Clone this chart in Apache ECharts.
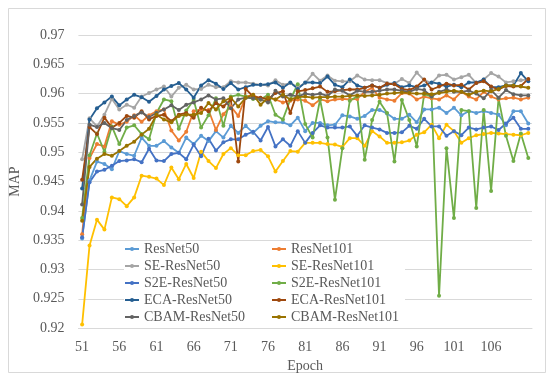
<!DOCTYPE html>
<html>
<head>
<meta charset="utf-8">
<script src="https://cdn.jsdelivr.net/npm/echarts@6/dist/echarts.min.js"></script>
<style>
html,body{margin:0;padding:0;background:#fff;}
#chart{width:550px;height:378px;}
</style>
</head>
<body>
<div id="chart"></div>
<script>
const epochs = ['51','52','53','54','55','56','57','58','59','60','61','62','63','64','65','66','67','68','69','70','71','72','73','74','75','76','77','78','79','80','81','82','83','84','85','86','87','88','89','90','91','92','93','94','95','96','97','98','99','100','101','102','103','104','105','106','107','108','109','110','111'];

const seriesNames = ['ResNet50','ResNet101','SE-ResNet50','SE-ResNet101','S2E-ResNet50','S2E-ResNet101','ECA-ResNet50','ECA-ResNet101','CBAM-ResNet50','CBAM-ResNet101'];

const resnet50 = [0.9353,0.9452,0.9484,0.9480,0.9471,0.9502,0.9497,0.9494,0.9525,0.9511,
0.9511,0.9519,0.9508,0.9499,0.9525,0.9514,0.9528,0.9519,0.9536,0.9525,
0.9545,0.9533,0.9545,0.9533,0.9545,0.9553,0.9551,0.9551,0.9546,0.9559,
0.9536,0.9550,0.9550,0.9546,0.9547,0.9563,0.9561,0.9557,0.9562,0.9572,
0.9572,0.9566,0.9557,0.9557,0.9564,0.9551,0.9573,0.9573,0.9576,0.9567,
0.9576,0.9563,0.9570,0.9567,0.9570,0.9567,0.9564,0.9546,0.9570,0.9570,
0.9549];

const resnet101 = [0.9360,0.9490,0.9514,0.9510,0.9553,0.9547,0.9552,0.9563,0.9552,0.9563,
0.9570,0.9573,0.9537,0.9520,0.9535,0.9570,0.9573,0.9572,0.9538,0.9565,
0.9578,0.9562,0.9595,0.9598,0.9590,0.9595,0.9590,0.9585,0.9588,0.9590,
0.9588,0.9580,0.9590,0.9587,0.9590,0.9591,0.9590,0.9591,0.9603,0.9610,
0.9593,0.9590,0.9588,0.9601,0.9600,0.9590,0.9595,0.9592,0.9590,0.9597,
0.9590,0.9603,0.9595,0.9590,0.9603,0.9595,0.9590,0.9592,0.9593,0.9590,
0.9593];

const seResnet50 = [0.9488,0.9558,0.9544,0.9564,0.9591,0.9573,0.9581,0.9576,0.9595,0.9601,
0.9607,0.9612,0.9595,0.9610,0.9615,0.9607,0.9608,0.9615,0.9611,0.9611,
0.9621,0.9619,0.9619,0.9617,0.9615,0.9614,0.9623,0.9615,0.9618,0.9611,
0.9618,0.9634,0.9622,0.9631,0.9622,0.9621,0.9621,0.9631,0.9624,0.9623,
0.9623,0.9618,0.9617,0.9625,0.9618,0.9636,0.9623,0.9618,0.9631,0.9632,
0.9624,0.9628,0.9632,0.9618,0.9624,0.9635,0.9629,0.9619,0.9621,0.9623,
0.9624];

const seResnet101 = [0.9206,0.9341,0.9385,0.9368,0.9423,0.9420,0.9408,0.9423,0.9460,0.9458,
0.9455,0.9444,0.9474,0.9454,0.9480,0.9456,0.9501,0.9485,0.9473,0.9497,
0.9507,0.9495,0.9495,0.9502,0.9504,0.9493,0.9467,0.9485,0.9502,0.9501,
0.9516,0.9516,0.9516,0.9514,0.9513,0.9509,0.9524,0.9524,0.9511,0.9536,
0.9527,0.9516,0.9516,0.9517,0.9520,0.9530,0.9534,0.9547,0.9524,0.9547,
0.9536,0.9516,0.9524,0.9529,0.9531,0.9533,0.9532,0.9531,0.9530,0.9529,
0.9533];

const s2eResnet50 = [0.9355,0.9449,0.9467,0.9470,0.9477,0.9485,0.9486,0.9488,0.9483,0.9506,
0.9486,0.9485,0.9497,0.9499,0.9488,0.9513,0.9493,0.9523,0.9503,0.9517,
0.9522,0.9522,0.9530,0.9535,0.9520,0.9543,0.9510,0.9522,0.9511,0.9536,
0.9516,0.9533,0.9546,0.9542,0.9542,0.9542,0.9544,0.9528,0.9546,0.9542,
0.9539,0.9533,0.9533,0.9534,0.9545,0.9540,0.9557,0.9544,0.9544,0.9528,
0.9536,0.9529,0.9542,0.9539,0.9542,0.9544,0.9538,0.9549,0.9559,0.9540,
0.9540];

const s2eResnet101 = [0.9388,0.9495,0.9532,0.9501,0.9544,0.9514,0.9542,0.9546,0.9531,0.9522,
0.9567,0.9590,0.9587,0.9540,0.9571,0.9589,0.9542,0.9563,0.9592,0.9545,
0.9595,0.9598,0.9595,0.9591,0.9590,0.9598,0.9564,0.9556,0.9590,0.9616,
0.9548,0.9525,0.9590,0.9525,0.9419,0.9507,0.9588,0.9595,0.9487,0.9555,
0.9586,0.9567,0.9484,0.9589,0.9555,0.9510,0.9599,0.9595,0.9255,0.9507,
0.9388,0.9572,0.9570,0.9405,0.9572,0.9434,0.9592,0.9528,0.9485,0.9532,
0.9490];

const ecaResnet50 = [0.9438,0.9556,0.9575,0.9585,0.9595,0.9580,0.9590,0.9598,0.9594,0.9586,
0.9596,0.9607,0.9613,0.9618,0.9607,0.9593,0.9614,0.9623,0.9617,0.9608,
0.9618,0.9607,0.9611,0.9615,0.9615,0.9616,0.9619,0.9610,0.9619,0.9608,
0.9619,0.9619,0.9618,0.9629,0.9615,0.9611,0.9624,0.9614,0.9610,0.9614,
0.9610,0.9615,0.9618,0.9611,0.9614,0.9611,0.9614,0.9619,0.9617,0.9612,
0.9615,0.9611,0.9619,0.9619,0.9624,0.9611,0.9611,0.9614,0.9614,0.9635,
0.9621];

const ecaResnet101 = [0.9453,0.9543,0.9531,0.9559,0.9542,0.9550,0.9562,0.9559,0.9570,0.9556,
0.9562,0.9564,0.9553,0.9564,0.9567,0.9559,0.9576,0.9570,0.9584,0.9578,
0.9590,0.9484,0.9608,0.9595,0.9593,0.9590,0.9601,0.9604,0.9567,0.9604,
0.9606,0.9609,0.9612,0.9603,0.9604,0.9606,0.9607,0.9607,0.9610,0.9614,
0.9610,0.9617,0.9616,0.9608,0.9606,0.9612,0.9624,0.9607,0.9612,0.9617,
0.9614,0.9615,0.9607,0.9618,0.9621,0.9612,0.9607,0.9613,0.9612,0.9613,
0.9625];

const cbamResnet50 = [0.9411,0.9547,0.9543,0.9550,0.9541,0.9538,0.9555,0.9562,0.9568,0.9560,
0.9567,0.9573,0.9580,0.9572,0.9581,0.9585,0.9590,0.9597,0.9590,0.9592,
0.9575,0.9590,0.9593,0.9592,0.9590,0.9585,0.9605,0.9595,0.9598,0.9595,
0.9600,0.9598,0.9600,0.9596,0.9607,0.9605,0.9597,0.9605,0.9603,0.9603,
0.9605,0.9607,0.9607,0.9605,0.9603,0.9608,0.9606,0.9595,0.9603,0.9607,
0.9603,0.9603,0.9605,0.9600,0.9592,0.9606,0.9593,0.9606,0.9599,0.9597,
0.9597];

const cbamResnet101 = [0.9383,0.9475,0.9489,0.9497,0.9494,0.9502,0.9511,0.9518,0.9530,0.9540,
0.9564,0.9556,0.9551,0.9562,0.9564,0.9564,0.9567,0.9584,0.9573,0.9587,
0.9593,0.9578,0.9593,0.9598,0.9581,0.9593,0.9590,0.9598,0.9590,0.9594,
0.9595,0.9593,0.9594,0.9594,0.9595,0.9595,0.9596,0.9597,0.9596,0.9597,
0.9598,0.9600,0.9601,0.9602,0.9601,0.9600,0.9600,0.9599,0.9601,0.9603,
0.9605,0.9603,0.9598,0.9603,0.9605,0.9604,0.9608,0.9614,0.9614,0.9612,
0.9610];

const allData = [resnet50,resnet101,seResnet50,seResnet101,s2eResnet50,s2eResnet101,ecaResnet50,ecaResnet101,cbamResnet50,cbamResnet101];
const colors = ['#5B9BD5','#ED7D31','#A5A5A5','#FFC000','#4472C4','#70AD47','#255E91','#9E480E','#636363','#997300'];

const FONT = 'Liberation Serif';
const TXT = '#595959';

const chart = echarts.init(document.getElementById('chart'), null, {renderer:'canvas'});
const legendText = {fontFamily: FONT, fontSize: 14, color: TXT, lineHeight: 14};
chart.setOption({
  animation: false,
  backgroundColor: '#fff',
  color: colors,
  grid: {left: 69, right: 18, top: 35, bottom: 48, containLabel: false},
  graphic: [
    {type:'rect', left: 6, top: 6, shape:{width: 537, height: 364}, style:{fill:'none', stroke:'#d9d9d9', lineWidth:1}, z: 0, silent: true},
    {type:'rect', left: 124, top: 243, shape:{width: 281, height: 83}, style:{fill:'#fff'}, z: 1, silent: true}
  ],
  legend: [
    {data: [seriesNames[0],seriesNames[2],seriesNames[4],seriesNames[6],seriesNames[8]], orient:'vertical', left: 124, top: 242, itemWidth: 14, itemHeight: 5, itemGap: 3, textStyle: legendText, padding: 0, z: 5},
    {data: [seriesNames[1],seriesNames[3],seriesNames[5],seriesNames[7],seriesNames[9]], orient:'vertical', left: 271, top: 242, itemWidth: 14, itemHeight: 5, itemGap: 3, textStyle: legendText, padding: 0, z: 5}
  ],
  xAxis: {
    type: 'category',
    data: epochs,
    boundaryGap: true,
    name: 'Epoch',
    nameLocation: 'middle',
    nameGap: 25,
    nameTextStyle: {fontFamily: FONT, fontSize: 14, color: TXT},
    axisLine: {show: true, lineStyle: {color: '#d9d9d9', width: 1}},
    axisTick: {show: false},
    axisLabel: {
      interval: function(idx){ return idx % 5 === 0 && idx < 60; },
      fontFamily: FONT, fontSize: 14, color: TXT, margin: 12
    },
    splitLine: {show: false}
  },
  yAxis: {
    type: 'value',
    min: 0.92, max: 0.97, interval: 0.005,
    name: 'MAP',
    nameLocation: 'middle',
    nameRotate: 90,
    nameGap: 47,
    nameTextStyle: {fontFamily: FONT, fontSize: 14, color: TXT},
    axisLine: {show: false},
    axisTick: {show: false},
    axisLabel: {
      fontFamily: FONT, fontSize: 14, color: TXT, margin: 14,
      formatter: function(v){ return parseFloat(v.toFixed(3)).toString(); }
    },
    splitLine: {show: true, lineStyle: {color: '#d9d9d9', width: 1}}
  },
  series: seriesNames.map(function(name, i){
    return {
      name: name,
      type: 'line',
      data: allData[i],
      symbol: 'circle',
      symbolSize: 4,
      showSymbol: true,
      lineStyle: {width: 1.8, color: colors[i]},
      itemStyle: {color: colors[i]},
      z: 2
    };
  })
});
</script>
</body>
</html>
